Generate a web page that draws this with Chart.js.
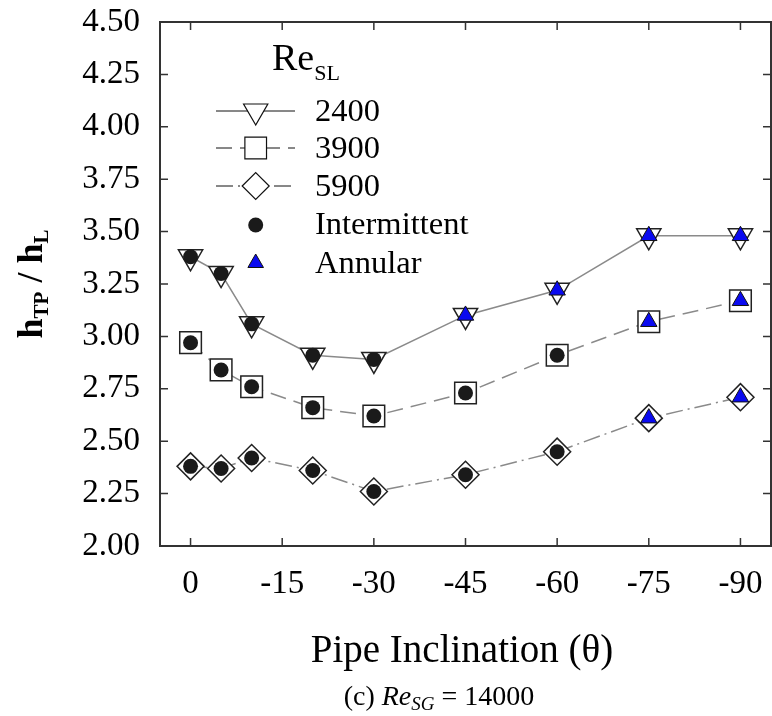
<!DOCTYPE html>
<html>
<head>
<meta charset="utf-8">
<title>hTP / hL vs pipe inclination</title>
<script src="https://cdn.jsdelivr.net/npm/chart.js@4.4.0/dist/chart.umd.min.js"></script>
<style>
  body { margin: 0; background: #fff; }
  #wrap { width: 772px; height: 716px; }
</style>
</head>
<body>
<div id="wrap"><canvas id="ratioChart" width="772" height="716"></canvas></div>
<script>
// inclination angles (deg) where points were measured
const angles = [0, -5, -10, -20, -30, -45, -60, -75, -90];

// h_TP / h_L for each Re_SL
const re2400 = [3.38, 3.30, 3.06, 2.91, 2.89, 3.10, 3.22, 3.48, 3.48];
const re3900 = [2.97, 2.84, 2.76, 2.66, 2.62, 2.73, 2.91, 3.07, 3.17];
const re5900 = [2.38, 2.37, 2.42, 2.36, 2.26, 2.34, 2.45, 2.61, 2.71];

// flow pattern at each point: I = intermittent, A = annular
const regime2400 = ['I', 'I', 'I', 'I', 'I', 'A', 'A', 'A', 'A'];
const regime3900 = ['I', 'I', 'I', 'I', 'I', 'I', 'I', 'A', 'A'];
const regime5900 = ['I', 'I', 'I', 'I', 'I', 'I', 'I', 'A', 'A'];

const xTickValues = [0, -15, -30, -45, -60, -75, -90];
const legendLabels = ['2400', '3900', '5900', 'Intermittent', 'Annular'];

const FONT = '"Liberation Serif", "Times New Roman", serif';
const LINE_GRAY = '#8a8a8a';
const EDGE = '#222';
const BLUE = '#0a0af0';

function toPoints(values) {
  return angles.map((a, i) => ({ x: a, y: values[i] }));
}

// collect overlay points (circle / triangle) by flow regime
function regimePoints(code) {
  const out = [];
  [[re2400, regime2400], [re3900, regime3900], [re5900, regime5900]].forEach(([vals, reg]) => {
    reg.forEach((r, i) => {
      if (r === code) out.push({ x: angles[i], y: vals[i] });
    });
  });
  return out;
}

const seriesStyles = [
  { label: '2400', data: re2400, style: 'triangle', rot: 180, radius: 14, dash: [] },
  { label: '3900', data: re3900, style: 'rect', rot: 0, radius: 15.3, dash: [16, 8] },
  { label: '5900', data: re5900, style: 'rectRot', rot: 0, radius: 13.5, dash: [17, 5, 2, 5] }
];

const datasets = seriesStyles.map(s => ({
  label: s.label,
  data: toPoints(s.data),
  showLine: true,
  borderColor: LINE_GRAY,
  borderWidth: 1.5,
  borderDash: s.dash,
  pointStyle: s.style,
  pointRotation: s.rot,
  pointRadius: s.radius,
  pointBackgroundColor: '#fff',
  pointBorderColor: EDGE,
  pointBorderWidth: 1.5,
  order: 2
}));

datasets.push({
  label: 'Intermittent',
  data: regimePoints('I'),
  showLine: false,
  pointStyle: 'circle',
  pointRadius: 7.5,
  pointBackgroundColor: '#1a1a1a',
  pointBorderColor: '#1a1a1a',
  pointBorderWidth: 0,
  order: 1
});
datasets.push({
  label: 'Annular',
  data: regimePoints('A'),
  showLine: false,
  pointStyle: 'triangle',
  pointRadius: 9.5,
  pointBackgroundColor: BLUE,
  pointBorderColor: '#111',
  pointBorderWidth: 1,
  order: 1
});

// small shape painter for the hand drawn legend
function drawShape(ctx, shape, x, y, r, fill, stroke, lw) {
  ctx.beginPath();
  if (shape === 'triangleDown') {
    ctx.moveTo(x, y + r);
    ctx.lineTo(x - r * 0.866, y - r / 2);
    ctx.lineTo(x + r * 0.866, y - r / 2);
  } else if (shape === 'triangle') {
    ctx.moveTo(x, y - r);
    ctx.lineTo(x + r * 0.866, y + r / 2);
    ctx.lineTo(x - r * 0.866, y + r / 2);
  } else if (shape === 'rect') {
    const h = r * Math.SQRT1_2;
    ctx.rect(x - h, y - h, 2 * h, 2 * h);
  } else if (shape === 'rectRot') {
    ctx.moveTo(x - r, y);
    ctx.lineTo(x, y - r);
    ctx.lineTo(x + r, y);
    ctx.lineTo(x, y + r);
  } else {
    ctx.arc(x, y, r, 0, Math.PI * 2);
  }
  ctx.closePath();
  ctx.fillStyle = fill;
  ctx.fill();
  if (lw > 0) {
    ctx.strokeStyle = stroke;
    ctx.lineWidth = lw;
    ctx.stroke();
  }
}

// draw a run of text pieces: [text, font, dy]
function drawPieces(ctx, pieces, x, y, align) {
  let total = 0;
  pieces.forEach(p => { ctx.font = p[1]; total += ctx.measureText(p[0]).width; });
  let cx = align === 'center' ? x - total / 2 : x;
  ctx.textAlign = 'left';
  ctx.textBaseline = 'alphabetic';
  pieces.forEach(p => {
    ctx.font = p[1];
    ctx.fillText(p[0], cx, y + (p[2] || 0));
    cx += ctx.measureText(p[0]).width;
  });
}

const framePlugin = {
  id: 'frameAndText',
  afterDraw(chart) {
    const ctx = chart.ctx;
    const area = chart.chartArea;
    const xs = chart.scales.x;
    const ys = chart.scales.y;
    ctx.save();

    // frame
    ctx.strokeStyle = '#333';
    ctx.lineWidth = 2;
    ctx.strokeRect(area.left, area.top, area.right - area.left, area.bottom - area.top);

    // inward ticks on all four sides
    const tl = 8;
    ctx.lineWidth = 1.5;
    ctx.beginPath();
    xs.ticks.forEach(t => {
      const px = xs.getPixelForValue(t.value);
      ctx.moveTo(px, area.bottom); ctx.lineTo(px, area.bottom - tl);
      ctx.moveTo(px, area.top); ctx.lineTo(px, area.top + tl);
    });
    ys.ticks.forEach(t => {
      const py = ys.getPixelForValue(t.value);
      ctx.moveTo(area.left, py); ctx.lineTo(area.left + tl, py);
      ctx.moveTo(area.right, py); ctx.lineTo(area.right - tl, py);
    });
    ctx.stroke();

    ctx.fillStyle = '#000';

    // y title, rotated
    ctx.save();
    ctx.translate(42, 284);
    ctx.rotate(-Math.PI / 2);
    const big = 'bold 36px ' + FONT;
    const sub = 'bold 21px ' + FONT;
    drawPieces(ctx, [['h', big], ['TP', sub, 6], [' / ', big], ['h', big], ['L', sub, 6]], 0, 0, 'center');
    ctx.restore();

    // x title and caption
    drawPieces(ctx, [['Pipe Inclination (\u03b8)', '39px ' + FONT]], 462, 662, 'center');
    drawPieces(ctx, [
      ['(c) ', '28px ' + FONT],
      ['Re', 'italic 28px ' + FONT],
      ['SG', 'italic 19px ' + FONT, 5],
      [' = 14000', '28px ' + FONT]
    ], 439, 705, 'center');

    // legend
    const lx = area.left;
    const ly = area.top;
    drawPieces(ctx, [['Re', '38px ' + FONT], ['SL', '22px ' + FONT, 10]], lx + 112, ly + 48, 'left');

    const rowBase = [99, 136, 174, 212, 251];
    const lineX0 = lx + 56, lineX1 = lx + 135, markX = lx + 95.7;
    const shapes = [['triangleDown', 14], ['rect', 15.3], ['rectRot', 13.5]];
    seriesStyles.forEach((s, i) => {
      const yy = ly + rowBase[i] - 10;
      ctx.strokeStyle = '#111';
      ctx.lineWidth = 1;
      ctx.setLineDash(s.dash);
      ctx.beginPath();
      ctx.moveTo(lineX0, yy); ctx.lineTo(lineX1, yy);
      ctx.stroke();
      ctx.setLineDash([]);
      drawShape(ctx, shapes[i][0], markX, yy, shapes[i][1], '#fff', '#111', 1.2);
    });
    drawShape(ctx, 'circle', markX, ly + rowBase[3] - 9, 7.5, '#1a1a1a', '#1a1a1a', 0);
    drawShape(ctx, 'triangle', markX, ly + rowBase[4] - 10, 9, BLUE, '#111', 1);

    ctx.fillStyle = '#000';
    legendLabels.forEach((lab, i) => {
      drawPieces(ctx, [[lab, '32.5px ' + FONT]], lx + 155, ly + rowBase[i], 'left');
    });

    ctx.restore();
  }
};

const ctx = document.getElementById('ratioChart').getContext('2d');
new Chart(ctx, {
  type: 'scatter',
  data: { datasets: datasets },
  options: {
    responsive: false,
    devicePixelRatio: 1,
    animation: false,
    layout: { autoPadding: false, padding: { top: 22, right: 1, left: 0, bottom: 0 } },
    plugins: {
      legend: { display: false },
      tooltip: { enabled: false },
      title: { display: false }
    },
    scales: {
      x: {
        type: 'linear',
        min: -95,
        max: 5,
        reverse: true,
        grid: { display: false },
        border: { display: false },
        afterBuildTicks: scale => {
          scale.ticks = xTickValues.map(v => ({ value: v }));
        },
        afterFit: scale => {
          scale.height = 170;
          scale.paddingLeft = 0;
          scale.paddingRight = 0;
        },
        ticks: {
          color: '#000',
          padding: 11,
          font: { family: FONT, size: 33 },
          callback: v => String(v)
        }
      },
      y: {
        min: 2,
        max: 4.5,
        grid: { display: false },
        border: { display: false },
        afterFit: scale => {
          scale.width = 160;
          scale.paddingTop = 0;
          scale.paddingBottom = 0;
        },
        ticks: {
          stepSize: 0.25,
          color: '#000',
          padding: 12,
          font: { family: FONT, size: 33 },
          callback: v => Number(v).toFixed(2)
        }
      }
    }
  },
  plugins: [framePlugin]
});
</script>
</body>
</html>
